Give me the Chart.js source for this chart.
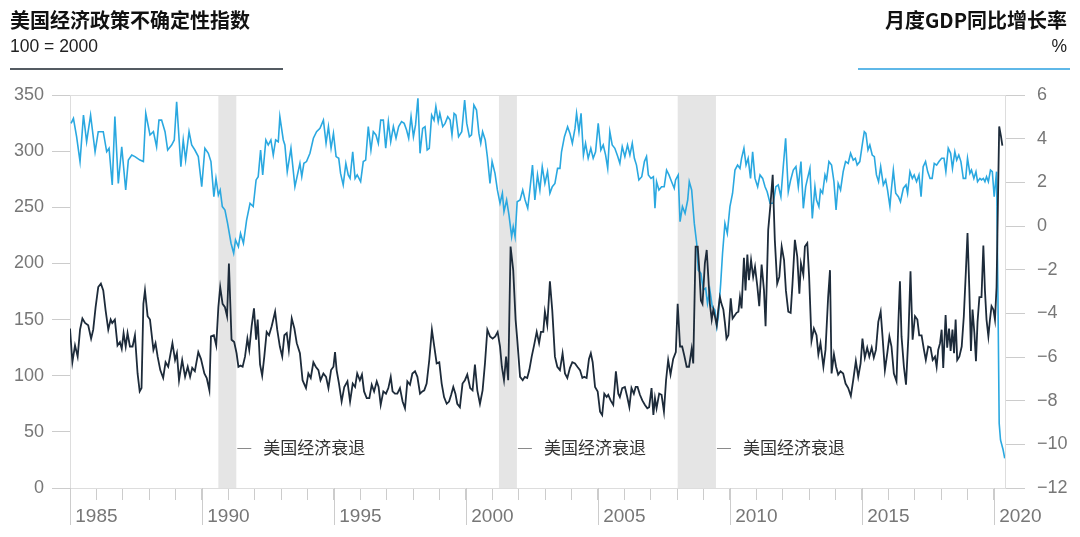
<!DOCTYPE html>
<html>
<head>
<meta charset="utf-8">
<script src="https://cdn.jsdelivr.net/npm/chart.js@4/dist/chart.umd.min.js"></script>
<style>
  html, body { margin: 0; padding: 0; background: #fff; }
  #wrap { position: relative; width: 1080px; height: 537px; overflow: hidden; }
  canvas { position: absolute; left: 0; top: 0; }
  .t { position: absolute; white-space: nowrap; color: #111; }
  .cjk { font-family: "Noto Sans CJK SC", sans-serif; font-weight: 700; font-size: 20px; line-height: 20px; }
  .sub { font-family: "Liberation Sans", Arial, sans-serif; font-size: 17.5px; line-height: 17.5px; color: #222; }
  .rule { position: absolute; height: 2px; }
</style>
</head>
<body>
<div id="wrap">
  <canvas id="c" width="1080" height="537"></canvas>
  <div class="t cjk" style="left:10px; top:10px;">美国经济政策不确定性指数</div>
  <div class="t sub" style="left:10px; top:38px;">100 = 2000</div>
  <div class="rule" style="left:10px; top:68px; width:273px; background:#545b62;"></div>
  <div class="t cjk" style="right:13px; top:10px;">月度GDP同比增长率</div>
  <div class="t sub" style="right:13px; top:38px;">%</div>
  <div class="rule" style="left:858px; top:68px; width:212px; background:#5fb8e8;"></div>
</div>
<script>
// ---- Data ----
const epuYears = [
1985.00,1985.09,1985.19,1985.29,1985.38,1985.47,1985.57,1985.69,1985.80,1985.88,1985.97,
1986.07,1986.17,1986.26,1986.35,1986.45,1986.54,1986.60,1986.70,1986.80,1986.89,1986.96,
1987.03,1987.11,1987.18,1987.27,1987.37,1987.46,1987.56,1987.64,1987.71,1987.78,1987.84,1987.94,
1988.03,1988.16,1988.24,1988.32,1988.42,1988.53,1988.62,1988.72,1988.88,1988.98,
1989.05,1989.13,1989.25,1989.36,1989.46,1989.55,1989.63,1989.73,1989.86,1989.96,
1990.09,1990.18,1990.28,1990.34,1990.45,1990.54,1990.62,1990.69,1990.78,1990.87,1990.95,
1991.02,1991.12,1991.22,1991.31,1991.38,1991.46,1991.54,1991.63,1991.72,1991.79,1991.88,1991.97,
1992.05,1992.11,1992.20,1992.28,1992.36,1992.45,1992.54,1992.64,1992.77,1992.85,1992.95,
1993.04,1993.12,1993.21,1993.29,1993.40,1993.50,1993.59,1993.71,1993.81,1993.94,
1994.03,1994.12,1994.22,1994.31,1994.41,1994.49,1994.60,1994.70,1994.79,1994.89,1994.98,
1995.04,1995.10,1995.19,1995.29,1995.39,1995.51,1995.61,1995.71,1995.80,1995.88,1995.98,
1996.06,1996.14,1996.24,1996.34,1996.43,1996.52,1996.62,1996.69,1996.77,1996.87,1996.97,
1997.06,1997.15,1997.22,1997.31,1997.40,1997.50,1997.60,1997.69,1997.78,1997.88,1997.97,
1998.07,1998.16,1998.26,1998.35,1998.42,1998.51,1998.61,1998.71,1998.80,1998.89,1998.99,
1999.08,1999.17,1999.27,1999.36,1999.44,1999.52,1999.60,1999.67,1999.77,1999.87,1999.96,
2000.05,2000.16,2000.25,2000.34,2000.43,2000.53,2000.63,2000.72,2000.81,2000.91,
2001.01,2001.11,2001.20,2001.29,2001.36,2001.44,2001.52,2001.60,2001.69,2001.79,2001.88,2001.94,
2002.05,2002.15,2002.23,2002.32,2002.40,2002.49,2002.58,2002.68,2002.77,2002.84,2002.93,2002.99,
2003.08,2003.18,2003.27,2003.37,2003.46,2003.56,2003.66,2003.75,2003.84,2003.94,
2004.03,2004.13,2004.22,2004.32,2004.41,2004.48,2004.57,2004.66,2004.73,2004.80,2004.89,2004.99,
2005.08,2005.16,2005.24,2005.33,2005.39,2005.48,2005.58,2005.68,2005.77,2005.83,2005.92,
2006.02,2006.11,2006.19,2006.27,2006.36,2006.43,2006.50,2006.59,2006.68,2006.78,2006.87,2006.94,
2007.03,2007.10,2007.16,2007.22,2007.32,2007.41,2007.50,2007.58,2007.66,2007.75,2007.85,2007.95,
2008.02,2008.11,2008.19,2008.27,2008.36,2008.45,2008.55,2008.61,2008.70,2008.78,2008.84,2008.90,2008.96,
2009.05,2009.12,2009.18,2009.24,2009.31,2009.37,2009.43,2009.50,2009.56,2009.62,2009.68,2009.75,2009.81,2009.87,2009.94,
2010.03,2010.10,2010.16,2010.25,2010.32,2010.38,2010.44,2010.53,2010.59,2010.66,2010.72,2010.80,2010.88,2010.95,
2011.04,2011.11,2011.20,2011.29,2011.35,2011.45,2011.53,2011.62,2011.70,2011.79,2011.87,2011.96,
2012.05,2012.12,2012.21,2012.30,2012.37,2012.46,2012.55,2012.63,2012.69,2012.78,2012.84,2012.93,
2013.00,2013.09,2013.18,2013.28,2013.35,2013.43,2013.54,2013.62,2013.72,2013.79,2013.85,2013.94,
2014.02,2014.10,2014.19,2014.29,2014.38,2014.48,2014.58,2014.67,2014.77,2014.86,2014.95,
2015.02,2015.11,2015.20,2015.28,2015.37,2015.45,2015.53,2015.62,2015.71,2015.78,2015.87,2015.96,
2016.04,2016.12,2016.21,2016.31,2016.38,2016.44,2016.50,2016.59,2016.67,2016.76,2016.84,2016.92,
2017.01,2017.10,2017.17,2017.26,2017.35,2017.42,2017.51,2017.60,2017.68,2017.77,2017.83,2017.89,2017.96,
2018.02,2018.08,2018.17,2018.23,2018.30,2018.36,2018.43,2018.49,2018.55,2018.61,2018.69,2018.78,2018.86,2018.94,
2019.00,2019.07,2019.13,2019.19,2019.26,2019.32,2019.38,2019.45,2019.53,2019.60,2019.66,2019.72,2019.79,2019.85,2019.91,2019.98,
2020.04,2020.10,2020.15,2020.20,2020.27,2020.32
];
const epuValues = [
142,112,127,117,141,151,147,145,133,141,161,
179,182,176,158,141,150,147,150,127,130,124,
138,126,138,126,126,136,102,86,89,164,176,153,
150,123,129,117,105,98,112,108,129,114,
120,96,114,99,108,99,107,104,121,115,
102,98,87,135,136,127,161,179,164,161,153,
200,132,130,120,108,109,108,117,133,123,144,160,
132,150,110,100,117,139,136,144,157,141,126,
117,136,138,123,151,142,129,120,96,89,
102,98,112,108,105,96,102,99,89,105,108,
121,105,93,77,90,95,77,93,90,102,96,
101,86,80,80,92,86,95,90,74,86,84,
89,99,86,84,84,89,77,71,95,92,102,
104,99,84,86,87,93,114,141,126,111,112,
93,81,75,77,83,90,84,75,72,93,96,
101,89,87,110,87,75,87,111,141,135,
133,135,139,126,108,96,117,96,215,194,150,133,
99,96,99,98,105,117,127,139,129,139,139,157,
145,184,158,117,108,105,120,102,98,107,
112,111,108,105,98,99,98,115,120,112,90,86,
68,65,84,81,83,78,74,104,84,81,89,
90,81,72,89,84,90,90,83,78,74,71,72,
89,65,80,71,84,83,68,96,114,101,115,121,
164,126,126,118,108,108,124,111,215,215,194,167,164,
200,212,188,164,150,159,153,145,159,170,164,159,147,133,136,
169,151,153,156,157,170,160,205,176,208,185,203,188,197,
179,162,199,176,144,230,251,279,221,182,188,215,
203,176,157,156,182,221,206,173,200,190,215,218,
188,131,142,136,119,129,108,123,170,194,102,119,
108,101,104,102,93,89,82,96,113,99,111,
133,116,125,117,125,116,123,148,157,135,105,120,
135,126,102,95,147,184,135,108,92,135,193,132,
153,150,136,136,123,114,126,125,114,117,108,123,129,
141,107,154,125,142,122,141,120,150,114,117,126,153,194,
227,176,122,159,138,113,148,170,170,216,176,150,135,150,162,159,
150,179,251,322,313,305
];

const gdpYears = [
1985.04,1985.13,1985.25,1985.38,1985.51,1985.63,1985.78,1985.95,
1986.07,1986.26,1986.39,1986.48,1986.60,1986.70,1986.83,1986.96,
1987.11,1987.21,1987.34,1987.46,1987.65,1987.78,1987.87,
1988.03,1988.16,1988.28,1988.37,1988.47,1988.60,1988.70,1988.85,1988.95,
1989.04,1989.20,1989.29,1989.38,1989.51,1989.61,1989.73,1989.86,1989.99,
1990.11,1990.24,1990.34,1990.45,1990.53,1990.62,1990.69,1990.77,1990.87,1990.97,
1991.10,1991.20,1991.27,1991.38,1991.46,1991.57,1991.69,1991.82,1991.94,
1992.05,1992.13,1992.22,1992.30,1992.42,1992.51,1992.61,1992.70,1992.79,1992.89,1992.95,
1993.08,1993.14,1993.23,1993.37,1993.52,1993.71,1993.78,1993.86,1993.96,
1994.09,1994.22,1994.34,1994.47,1994.60,1994.70,1994.79,1994.89,1994.98,
1995.08,1995.18,1995.25,1995.35,1995.45,1995.54,1995.61,1995.71,1995.80,1995.88,
1996.01,1996.11,1996.20,1996.30,1996.40,1996.49,1996.59,1996.68,1996.77,1996.87,1996.96,
1997.06,1997.15,1997.25,1997.35,1997.45,1997.56,1997.66,1997.75,1997.83,1997.92,
1998.01,1998.09,1998.18,1998.26,1998.36,1998.45,1998.53,1998.61,1998.70,1998.79,1998.86,1998.95,
1999.01,1999.12,1999.21,1999.31,1999.40,1999.47,1999.55,1999.62,1999.72,1999.84,1999.95,
2000.03,2000.13,2000.21,2000.30,2000.40,2000.49,2000.56,2000.63,2000.73,2000.81,2000.91,2000.99,
2001.10,2001.19,2001.29,2001.38,2001.44,2001.54,2001.63,2001.73,2001.79,2001.86,2001.94,
2002.05,2002.15,2002.24,2002.34,2002.42,2002.52,2002.61,2002.71,2002.80,2002.89,2002.99,
2003.09,2003.18,2003.27,2003.37,2003.47,2003.56,2003.62,2003.73,2003.85,2003.94,
2004.03,2004.13,2004.19,2004.28,2004.36,2004.45,2004.53,2004.63,2004.73,2004.82,2004.91,
2005.01,2005.11,2005.20,2005.29,2005.37,2005.45,2005.54,2005.64,2005.75,2005.83,2005.92,
2006.02,2006.12,2006.21,2006.30,2006.38,2006.46,2006.55,2006.66,2006.76,2006.84,2006.91,
2007.01,2007.10,2007.16,2007.22,2007.31,2007.41,2007.51,2007.60,2007.69,2007.79,2007.89,2007.94,
2008.04,2008.11,2008.20,2008.30,2008.40,2008.46,2008.55,2008.65,2008.74,2008.80,2008.90,2008.99,
2009.08,2009.15,2009.24,2009.33,2009.43,2009.50,2009.56,2009.65,2009.72,2009.81,2009.90,
2010.00,2010.10,2010.19,2010.29,2010.38,2010.44,2010.53,2010.61,2010.69,2010.78,2010.86,2010.95,
2011.05,2011.14,2011.24,2011.33,2011.41,2011.52,2011.64,2011.74,2011.83,2011.93,
2012.02,2012.11,2012.21,2012.30,2012.40,2012.50,2012.59,2012.69,2012.78,2012.87,2012.94,
2013.03,2013.12,2013.22,2013.28,2013.37,2013.43,2013.51,2013.60,2013.66,2013.75,2013.85,2013.94,
2014.02,2014.10,2014.19,2014.29,2014.38,2014.48,2014.57,2014.67,2014.75,2014.82,2014.92,
2015.03,2015.09,2015.15,2015.23,2015.30,2015.39,2015.47,2015.55,2015.63,2015.71,2015.81,2015.90,2015.97,
2016.06,2016.12,2016.19,2016.28,2016.38,2016.46,2016.57,2016.67,2016.73,2016.82,2016.91,2016.98,
2017.07,2017.16,2017.24,2017.32,2017.41,2017.49,2017.58,2017.66,2017.74,2017.83,2017.92,
2018.02,2018.11,2018.18,2018.27,2018.36,2018.43,2018.52,2018.59,2018.67,2018.75,2018.84,2018.93,
2019.00,2019.09,2019.15,2019.24,2019.32,2019.38,2019.47,2019.53,2019.60,2019.66,2019.72,2019.79,2019.87,2019.94,
2020.01,2020.10,2020.15,2020.20,2020.25,2020.35,2020.41
];
const gdpValues = [
4.70,4.93,4.09,2.95,5.08,3.86,5.08,3.40,
4.32,4.32,3.40,3.56,1.88,5.01,1.95,3.63,
1.65,3.02,3.25,3.18,3.02,2.95,5.16,
4.17,4.32,3.63,4.85,4.85,4.32,3.48,3.71,3.94,
5.69,2.72,3.94,3.02,4.32,3.71,3.48,3.18,1.80,
3.56,3.33,2.95,1.34,2.18,1.42,1.65,0.89,0.73,0.12,
-0.79,-1.25,-0.64,-0.95,-0.34,-0.79,0.27,1.04,0.89,
2.11,2.26,3.48,2.34,3.94,3.71,3.94,3.25,3.94,3.86,5.01,
3.94,3.71,2.49,3.56,1.80,2.87,2.26,2.87,2.95,
3.33,4.02,4.32,4.47,4.85,3.79,4.55,3.56,4.24,
3.18,3.10,2.41,1.88,2.87,2.34,2.18,3.40,2.18,2.34,
2.03,2.95,3.02,4.55,3.48,4.32,4.17,3.79,4.85,4.85,3.56,
4.78,3.86,4.55,4.02,4.55,4.78,4.70,4.40,4.02,5.01,
4.09,4.63,5.85,3.33,4.47,4.55,3.48,3.56,5.08,4.85,5.47,4.78,
5.16,4.55,4.70,5.01,4.85,4.17,5.16,5.08,4.09,4.32,5.77,
4.70,4.09,4.17,5.54,5.31,4.24,3.79,4.32,3.94,3.18,1.95,2.95,
2.41,1.65,1.04,1.50,0.66,1.19,0.50,-0.49,-0.03,-0.49,1.11,
1.19,1.65,1.19,0.81,1.65,2.79,1.19,2.34,1.65,2.72,1.95,
2.49,1.50,1.80,1.95,2.64,2.64,3.40,4.09,4.55,4.24,
3.79,4.47,5.16,4.32,5.16,3.25,3.79,3.10,3.56,3.10,3.40,
4.70,3.48,3.71,3.25,2.64,4.32,3.71,3.56,3.18,2.87,3.63,
3.18,3.71,3.25,3.79,3.10,2.79,2.11,2.26,2.95,3.18,2.34,
2.18,2.26,0.81,2.03,1.65,1.80,1.80,2.56,2.34,2.03,1.73,2.11,
2.34,0.20,0.89,0.58,1.19,2.03,1.65,0.12,-0.79,-2.02,-2.17,-2.93,
-2.85,-3.54,-2.93,-3.69,-3.85,-4.61,-4.15,-2.63,-1.25,0.12,-0.34,
0.89,1.50,2.56,2.79,2.64,3.10,3.56,2.79,3.10,2.18,3.40,2.18,
1.80,2.34,2.18,1.80,1.57,1.04,1.04,1.80,1.88,1.34,
2.72,4.02,1.57,2.11,2.56,2.72,1.80,2.95,0.81,1.80,2.18,
2.64,0.35,1.80,1.19,0.89,1.65,1.50,2.34,2.11,2.95,2.79,2.03,
0.73,1.95,1.65,2.49,2.95,2.87,3.33,3.02,3.10,2.79,2.95,
3.86,4.32,4.24,3.48,3.71,3.25,3.18,2.34,2.03,2.72,1.88,2.11,1.65,
0.89,1.73,2.56,1.50,1.34,1.11,1.73,1.88,1.50,2.49,2.18,2.34,
2.03,2.34,1.34,2.72,2.95,2.49,2.18,2.18,2.87,2.79,2.95,
3.10,3.10,2.49,3.56,3.33,2.64,3.40,3.02,3.25,2.95,2.18,2.18,
3.10,2.41,2.56,2.18,2.49,2.03,2.18,2.11,2.18,2.03,2.26,2.03,2.56,2.49,
1.34,2.49,-2.93,-9.04,-9.80,-10.26,-10.64
];

const recessionStarts = [1990.62, 2001.25, 2008.02];
const recessionEnds   = [1991.30, 2001.93, 2009.47];
const recessionLabel  = '美国经济衰退';

const xMin = 1985, xMax = 2020.42;
const leftMin = 0, leftMax = 350, leftStep = 50;
const rightMin = -12, rightMax = 6, rightStep = 2;

// ---- Build datasets ----
const epuPoints = epuYears.map((x, i) => ({ x, y: epuValues[i] }));
const gdpPoints = gdpYears.map((x, i) => ({ x, y: gdpValues[i] }));

const bandsPlugin = {
  id: 'bands',
  beforeDraw(chart) {
    const { ctx, chartArea, scales } = chart;
    const xs = scales.x;
    ctx.save();
    ctx.fillStyle = '#e5e5e5';
    recessionStarts.forEach((s, i) => {
      const x0 = xs.getPixelForValue(s), x1 = xs.getPixelForValue(recessionEnds[i]);
      ctx.fillRect(x0, chartArea.top, x1 - x0, chartArea.bottom - chartArea.top);
    });
    ctx.restore();
  },
  afterDraw(chart) {
    const { ctx, chartArea, scales } = chart;
    const xs = scales.x;
    ctx.save();
    // major (5-year) ticks
    ctx.strokeStyle = '#cccccc';
    ctx.lineWidth = 1;
    for (let yr = 1985; yr <= 2020; yr += 5) {
      const px = Math.round(xs.getPixelForValue(yr)) + 0.5;
      ctx.beginPath();
      ctx.moveTo(px, chartArea.bottom);
      ctx.lineTo(px, 525);
      ctx.stroke();
    }
    // recession labels
    const ly = 448;
    recessionEnds.forEach((e) => {
      const px = xs.getPixelForValue(e);
      ctx.strokeStyle = '#8a8a8a';
      ctx.beginPath();
      ctx.moveTo(px + 1, ly + 0.5);
      ctx.lineTo(px + 15, ly + 0.5);
      ctx.stroke();
      ctx.fillStyle = '#333333';
      ctx.font = '17px "Noto Sans CJK SC", sans-serif';
      ctx.textBaseline = 'middle';
      ctx.textAlign = 'left';
      ctx.fillText(recessionLabel, px + 27, ly);
    });
    ctx.restore();
  }
};

const tickFont = { family: '"Liberation Sans", Arial, sans-serif', size: 18 };

new Chart(document.getElementById('c'), {
  type: 'line',
  data: {
    datasets: [
      { label: 'EPU', data: epuPoints, yAxisID: 'y', borderColor: '#1d2b3a', borderWidth: 1.8,
        pointRadius: 0, tension: 0, fill: false },
      { label: 'GDP', data: gdpPoints, yAxisID: 'y1', borderColor: '#2aa8e0', borderWidth: 1.6,
        pointRadius: 0, tension: 0, fill: false }
    ]
  },
  options: {
    responsive: false,
    animation: false,
    devicePixelRatio: 1,
    layout: { padding: { top: 95, left: 0, right: 0, bottom: 0 } },
    plugins: { legend: { display: false }, tooltip: { enabled: false } },
    scales: {
      x: {
        type: 'linear', position: 'bottom', min: xMin, max: xMax,
        afterFit(s) { s.height = 49; },
        border: { display: true, color: '#dddddd' },
        grid: { drawOnChartArea: false, drawTicks: true, tickLength: 12, color: '#cccccc' },
        ticks: {
          stepSize: 1, includeBounds: false, autoSkip: false, maxRotation: 0, minRotation: 0,
          align: 'start', padding: 5, color: '#777777',
          font: { family: '"Liberation Sans", Arial, sans-serif', size: 19 },
          callback: (v) => (Math.round(v) % 5 === 0 ? ' ' + Math.round(v) : '')
        }
      },
      y: {
        position: 'left', min: leftMin, max: leftMax,
        afterFit(s) { s.width = 70; },
        border: { display: true, color: '#dddddd' },
        grid: {
          drawOnChartArea: true, drawTicks: true, tickLength: 18,
          color: (c) => (c.tick && (c.tick.value === leftMin || c.tick.value === leftMax)) ? '#dddddd' : 'rgba(0,0,0,0)',
          tickColor: '#cccccc'
        },
        ticks: { stepSize: leftStep, padding: 8, color: '#777777', font: tickFont }
      },
      y1: {
        position: 'right', min: rightMin, max: rightMax,
        afterFit(s) { s.width = 75; },
        border: { display: true, color: '#dddddd' },
        grid: { drawOnChartArea: false, drawTicks: true, tickLength: 20, color: '#cccccc' },
        ticks: { stepSize: rightStep, padding: 12, color: '#777777', font: tickFont,
          callback: (v) => String(v).replace('-', '\u2212') }
      }
    }
  },
  plugins: [bandsPlugin]
});
</script>
</body>
</html>
